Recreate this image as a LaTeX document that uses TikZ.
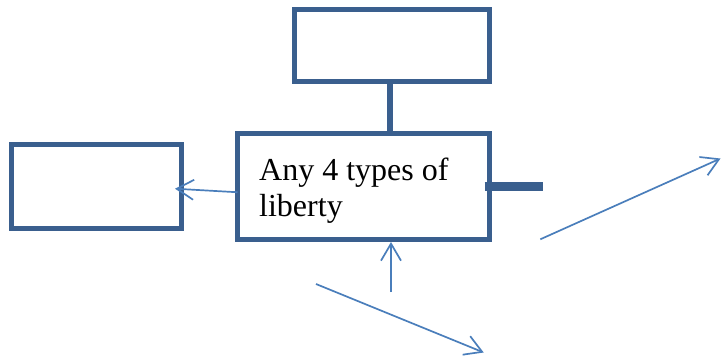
\documentclass[tikz,border=0pt]{standalone}
\usepackage{fontspec}
\setmainfont{Liberation Serif}
\usetikzlibrary{arrows.meta}
\definecolor{boxblue}{HTML}{3A5F8E}
\definecolor{arrowblue}{HTML}{4A7EBB}
\begin{document}
\begin{tikzpicture}[x=1pt,y=1pt,
  box/.style={draw=boxblue,line width=5pt,fill=white,rectangle,inner sep=0pt},
  bar/.style={draw=boxblue,line width=6pt},
  arr/.style={draw=arrowblue,line width=1.7pt,-{Straight Barb[length=17pt,width=20pt,line width=1.7pt]}},
  label/.style={font=\fontsize{32}{36.7}\selectfont,align=left,inner sep=0pt,text=black}]
\useasboundingbox (0,0) rectangle (722,357);
% free ends
\coordinate (leftTip) at (175,168.3);
\coordinate (upStart) at (391,65);
\coordinate (lowStart) at (316,73);
\coordinate (lowTip) at (483.7,4.5);
\coordinate (rStart) at (540.3,117.7);
\coordinate (rTip) at (720.5,198.5);
\coordinate (stubEnd) at (543,170.5);
% boxes
\node[box,minimum width=194.5pt,minimum height=71.5pt] (top) at (391.75,311.25) {};
\node[box,minimum width=170pt,minimum height=84pt] (left) at (96,170.5) {};
\node[box,minimum width=252pt,minimum height=106.5pt] (main) at (363,170.75) {};
\node[label,anchor=base west] (txt) at (259,140.3) {Any 4 types of\\liberty};
% connectors
\draw[bar] ([xshift=-1.75pt]top.south) -- ([xshift=-1.75pt]top.south |- main.north);
\draw[draw=boxblue,line width=9pt] ([xshift=-7pt,yshift=-0.25pt]main.east) -- (stubEnd);
\draw[arr] ([xshift=3pt,yshift=-6pt]main.west) -- (leftTip);
\draw[arr] (upStart) -- (upStart |- main.south);
\draw[arr] (lowStart) -- (lowTip);
\draw[arr] (rStart) -- (rTip);
\end{tikzpicture}
\end{document}
